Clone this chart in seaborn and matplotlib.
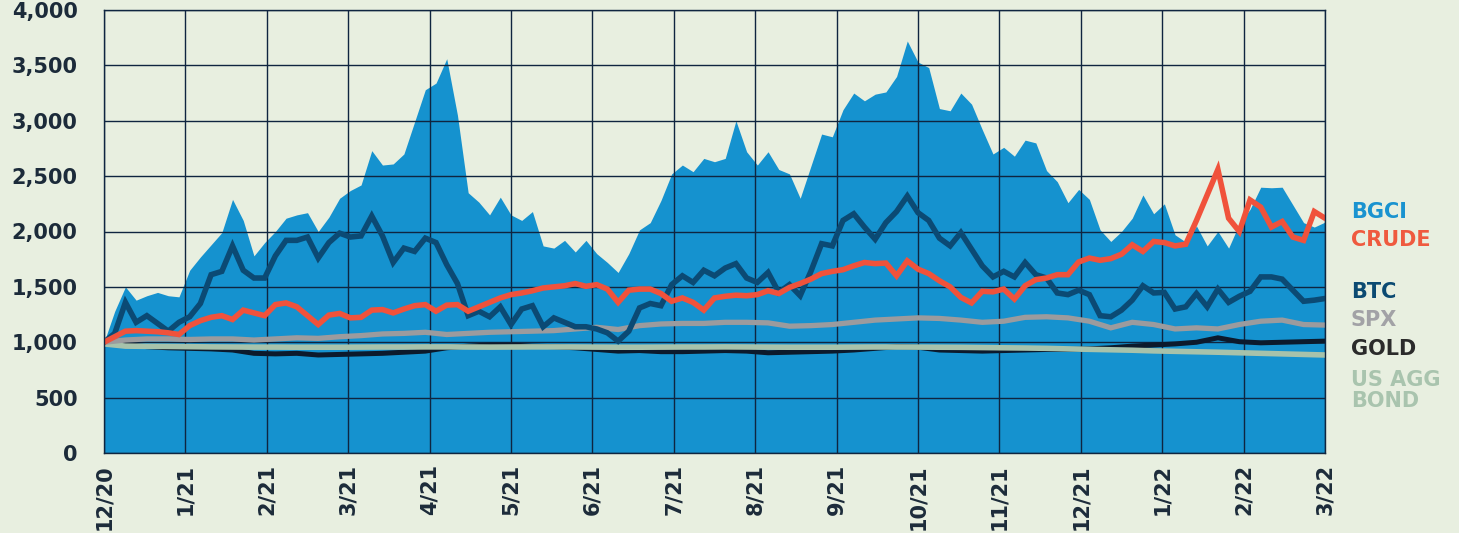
"""
BGCI vs crude, BTC, SPX, gold and US agg bond, indexed to 1,000 (12/20 - 3/22)
"""
import numpy as np
import pandas as pd
import matplotlib
matplotlib.use("Agg")
import matplotlib.pyplot as plt
import seaborn as sns

# ── Data (indexed to 1,000) ──────────────────────────────────────────────
month_labels = ["12/20", "1/21", "2/21", "3/21", "4/21", "5/21", "6/21", "7/21",
                "8/21", "9/21", "10/21", "11/21", "12/21", "1/22", "2/22", "3/22"]
# observation points, in months since 12/20 (evenly spaced, ~4 days apart)
months = np.linspace(0, 15, 115)
months_wk = months[::2]

bgci = [1000, 1280, 1500, 1380, 1420, 1450, 1420, 1410, 1650, 1770,
        1880, 1990, 2290, 2100, 1780, 1900, 2000, 2120, 2150, 2170,
        2000, 2130, 2300, 2370, 2420, 2730, 2600, 2610, 2700, 2990,
        3280, 3340, 3560, 3050, 2350, 2265, 2150, 2310, 2150, 2100,
        2180, 1870, 1850, 1920, 1815, 1920, 1800, 1720, 1630, 1800,
        2015, 2080, 2280, 2520, 2600, 2540, 2660, 2630, 2660, 3000,
        2720, 2600, 2720, 2560, 2520, 2300, 2590, 2880, 2855, 3100,
        3250, 3180, 3240, 3260, 3400, 3720, 3530, 3480, 3110, 3090,
        3250, 3150, 2920, 2700, 2760, 2680, 2825, 2800, 2550, 2450,
        2260, 2380, 2290, 2015, 1910, 2000, 2120, 2330, 2160, 2250,
        1970, 1905, 2050, 1870, 2000, 1850, 2070, 2200, 2400, 2395,
        2400, 2240, 2080, 2040, 2085]

btc = [1000, 1080, 1360, 1180, 1240, 1170, 1100, 1180, 1230, 1350,
       1610, 1640, 1870, 1650, 1580, 1580, 1780, 1920, 1920, 1950,
       1760, 1900, 1985, 1950, 1960, 2140, 1960, 1720, 1850, 1820,
       1940, 1900, 1700, 1530, 1240, 1280, 1230, 1320, 1160, 1300,
       1330, 1140, 1220, 1180, 1140, 1140, 1120, 1085, 1010, 1100,
       1310, 1350, 1330, 1520, 1600, 1540, 1650, 1600, 1670, 1710,
       1580, 1540, 1630, 1450, 1520, 1420, 1640, 1890, 1870, 2100,
       2160, 2040, 1930, 2080, 2180, 2320, 2170, 2100, 1940, 1870,
       1990, 1840, 1690, 1590, 1640, 1590, 1720, 1610, 1580, 1445,
       1430, 1470, 1430, 1240, 1230, 1290, 1380, 1510, 1445, 1450,
       1300, 1320, 1440, 1320, 1480, 1360, 1415, 1460, 1590, 1590,
       1570, 1470, 1370, 1380, 1395]

crude = [1000, 1050, 1100, 1105, 1100, 1095, 1085, 1070, 1150, 1195,
         1225, 1240, 1205, 1290, 1265, 1240, 1340, 1355, 1320, 1240,
         1160, 1245, 1260, 1220, 1225, 1290, 1295, 1265, 1300, 1330,
         1340, 1280, 1335, 1340, 1280, 1320, 1360, 1400, 1430, 1445,
         1465, 1490, 1500, 1510, 1530, 1505, 1520, 1480, 1360, 1470,
         1480, 1480, 1440, 1370, 1400, 1360, 1290, 1400, 1415, 1425,
         1420, 1430, 1465, 1440, 1495, 1530, 1570, 1620, 1640, 1655,
         1690, 1720, 1710, 1715, 1600, 1735, 1660, 1620, 1555, 1500,
         1405, 1355, 1460, 1455, 1480, 1390, 1510, 1565, 1580, 1610,
         1610, 1725, 1760, 1740, 1755, 1795, 1880, 1820, 1910, 1900,
         1870, 1885, 2100, 2330, 2560, 2120, 2000, 2285, 2220, 2040,
         2090, 1950, 1920, 2180, 2120]

spx = [1000, 1020, 1030, 1030, 1025, 1030, 1030, 1020, 1030, 1040,
       1035, 1050, 1060, 1075, 1080, 1090, 1070, 1080, 1090, 1095,
       1100, 1105, 1120, 1135, 1115, 1150, 1165, 1170, 1170, 1180,
       1180, 1175, 1145, 1150, 1160, 1180, 1200, 1210, 1220, 1215,
       1200, 1180, 1190, 1225, 1230, 1220, 1190, 1130, 1180, 1160,
       1120, 1130, 1120, 1160, 1190, 1200, 1160, 1155]

gold = [1000, 980, 960, 950, 945, 940, 930, 900, 895, 900,
        885, 890, 895, 900, 910, 920, 950, 965, 975, 975,
        965, 960, 950, 935, 920, 925, 915, 915, 920, 925,
        920, 905, 910, 915, 920, 930, 945, 960, 955, 930,
        925, 920, 925, 930, 935, 935, 940, 950, 965, 975,
        985, 1000, 1040, 1005, 995, 1000, 1005, 1010]

us_agg_bond = [985, 965, 963, 962, 960, 958, 957, 956, 956, 955,
               955, 955, 956, 957, 957, 958, 958, 957, 956, 957,
               958, 958, 957, 956, 955, 955, 956, 957, 957, 958,
               957, 956, 955, 955, 955, 956, 957, 957, 956, 955,
               954, 952, 950, 948, 945, 940, 936, 932, 928, 922,
               918, 914, 910, 905, 900, 895, 890, 885]

# ── Style ────────────────────────────────────────────────────────────────
BG = "#e8efe0"
GRID = "#0f2540"
colors = {"BGCI": "#1592cf", "CRUDE": "#f0523b", "BTC": "#0b4a74",
          "SPX": "#9b9b9e", "GOLD": "#0c1a2c", "BOND": "#a7c2ab"}

sns.set_theme(style="white")
plt.rcParams["font.family"] = ["DejaVu Sans"]

fig = plt.figure(figsize=(14.59, 5.33), dpi=100, facecolor=BG)
ax = fig.add_axes([104 / 1459, 80 / 533, 1221 / 1459, 443 / 533])
ax.set_facecolor(BG)

ax.fill_between(months, bgci, 0, color=colors["BGCI"], lw=0, zorder=1)

line_kw = dict(ax=ax, solid_joinstyle="miter")
sns.lineplot(x=months_wk, y=gold, color=colors["GOLD"], lw=3.6, zorder=3, **line_kw)
sns.lineplot(x=months_wk, y=us_agg_bond, color=colors["BOND"], lw=4.0, zorder=4, **line_kw)
sns.lineplot(x=months_wk, y=spx, color=colors["SPX"], lw=3.8, zorder=5, **line_kw)
sns.lineplot(x=months, y=btc, color=colors["BTC"], lw=4.0, zorder=6, **line_kw)
sns.lineplot(x=months, y=crude, color=colors["CRUDE"], lw=4.0, zorder=7, **line_kw)

ax.set_xlim(0, 15)
ax.set_ylim(0, 4000)
ax.set_xticks(range(len(month_labels)))
ax.set_xticklabels(month_labels, rotation=90, va="top", ha="center")
ax.set_yticks(range(0, 4001, 500))
ax.set_yticklabels([f"{v:,}" for v in range(0, 4001, 500)])
ax.set_xlabel(""); ax.set_ylabel("")

ax.set_axisbelow("line")
ax.grid(True, color=GRID, lw=1.0)
for s in ax.spines.values():
    s.set_color(GRID); s.set_linewidth(1.0); s.set_zorder(8)
ax.tick_params(axis="both", length=0, labelsize=15, labelcolor="#1c2b3a")
ax.tick_params(axis="y", pad=19)
ax.tick_params(axis="x", pad=8)
for lbl in ax.get_xticklabels() + ax.get_yticklabels():
    lbl.set_fontweight("bold")

# right-hand labels
labels = [("BGCI", "#1a93d0", 212), ("CRUDE", "#ef5a3f", 240),
          ("BTC", "#0b4a72", 292), ("SPX", "#a2a2a6", 320),
          ("GOLD", "#2b2b2b", 349), ("US AGG", "#a9c4ae", 380),
          ("BOND", "#a9c4ae", 401)]
for txt, c, ypx in labels:
    fig.text(1351 / 1459, 1 - ypx / 533, txt, color=c, fontsize=15,
             fontweight="bold", va="center", ha="left")

plt.savefig("out.png", dpi=100, facecolor=BG)
plt.close()
